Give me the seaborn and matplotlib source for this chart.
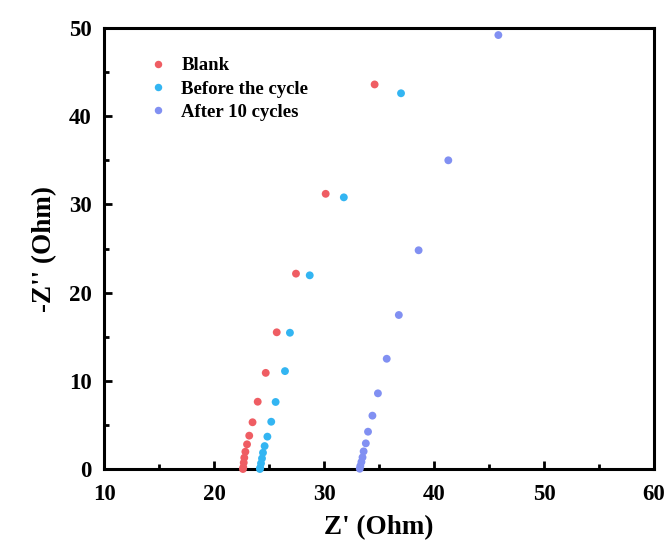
import matplotlib
matplotlib.use("Agg")
import matplotlib.pyplot as plt
from matplotlib.ticker import MultipleLocator
import seaborn as sns
import pandas as pd

# Nyquist data: Z' (real) and -Z'' (imaginary), Ohm
blank_zre = [22.63, 22.66, 22.70, 22.75, 22.85, 23.0, 23.2, 23.5, 23.97, 24.7, 25.7, 27.45, 30.15, 34.6]
blank_zim = [0.0, 0.19, 0.72, 1.28, 1.96, 2.8, 3.78, 5.3, 7.63, 10.9, 15.5, 22.15, 31.2, 43.6]

before_zre = [24.17, 24.2, 24.27, 24.36, 24.45, 24.6, 24.85, 25.2, 25.6, 26.45, 26.9, 28.7, 31.8, 37.0]
before_zim = [0.0, 0.15, 0.64, 1.2, 1.85, 2.6, 3.67, 5.36, 7.6, 11.1, 15.45, 21.96, 30.8, 42.6]

after_zre = [33.25, 33.3, 33.4, 33.5, 33.6, 33.8, 34.0, 34.4, 34.9, 35.7, 36.8, 38.6, 41.3, 45.85]
after_zim = [0.03, 0.34, 0.8, 1.32, 2.0, 2.91, 4.23, 6.05, 8.58, 12.5, 17.46, 24.8, 35.0, 49.2]

series_names = ["Blank", "Before the cycle", "After 10 cycles"]
series_colors = ["#EF5D63", "#33B5F2", "#8190F2"]

x_ticks = [10, 20, 30, 40, 50, 60]
y_ticks = [0, 10, 20, 30, 40, 50]

df = pd.concat([
    pd.DataFrame({"zre": blank_zre, "zim": blank_zim, "sample": series_names[0]}),
    pd.DataFrame({"zre": before_zre, "zim": before_zim, "sample": series_names[1]}),
    pd.DataFrame({"zre": after_zre, "zim": after_zim, "sample": series_names[2]}),
], ignore_index=True)

sns.set_style("white")
plt.rcParams["font.family"] = ["Liberation Serif", "DejaVu Serif"]
plt.rcParams["font.weight"] = "bold"
plt.rcParams["text.color"] = "black"
plt.rcParams["axes.labelcolor"] = "black"
plt.rcParams["xtick.color"] = "black"
plt.rcParams["ytick.color"] = "black"

fig = plt.figure(figsize=(6.67, 5.49), dpi=100)
ax = fig.add_axes([0.156, 0.1457, 0.8245, 0.8033])

sns.scatterplot(data=df, x="zre", y="zim", hue="sample",
                hue_order=series_names, palette=series_colors,
                s=32, linewidth=0, ax=ax, clip_on=False, zorder=3)

ax.set_xlim(10, 60)
ax.set_ylim(0, 50)
ax.set_xticks(x_ticks)
ax.set_yticks(y_ticks)
ax.xaxis.set_minor_locator(MultipleLocator(5))
ax.yaxis.set_minor_locator(MultipleLocator(5))
ax.tick_params(axis="both", which="major", direction="in", length=6, width=2,
               labelsize=16.5, bottom=True, left=True, top=False, right=False,
               colors="black")
ax.tick_params(axis="x", which="major", pad=11)
ax.tick_params(axis="y", which="major", pad=9)
ax.tick_params(axis="both", which="minor", direction="in", length=3.5, width=2,
               bottom=True, left=True, top=False, right=False)
for lbl in ax.get_xticklabels() + ax.get_yticklabels():
    lbl.set_fontweight("bold")

for sp in ax.spines.values():
    sp.set_linewidth(2.2)
    sp.set_color("black")

ax.set_xlabel("Z' (Ohm)", fontsize=19.5, fontweight="bold", labelpad=7)
ax.set_ylabel("-Z'' (Ohm)", fontsize=19.5, fontweight="bold", labelpad=8)

ax.legend(loc="upper left", bbox_to_anchor=(0.033, 0.972), frameon=False,
          prop={"size": 13.5, "weight": "bold"}, handletextpad=0.25,
          labelspacing=0.33, markerscale=0.95)

fig.savefig("out.png", dpi=100)
